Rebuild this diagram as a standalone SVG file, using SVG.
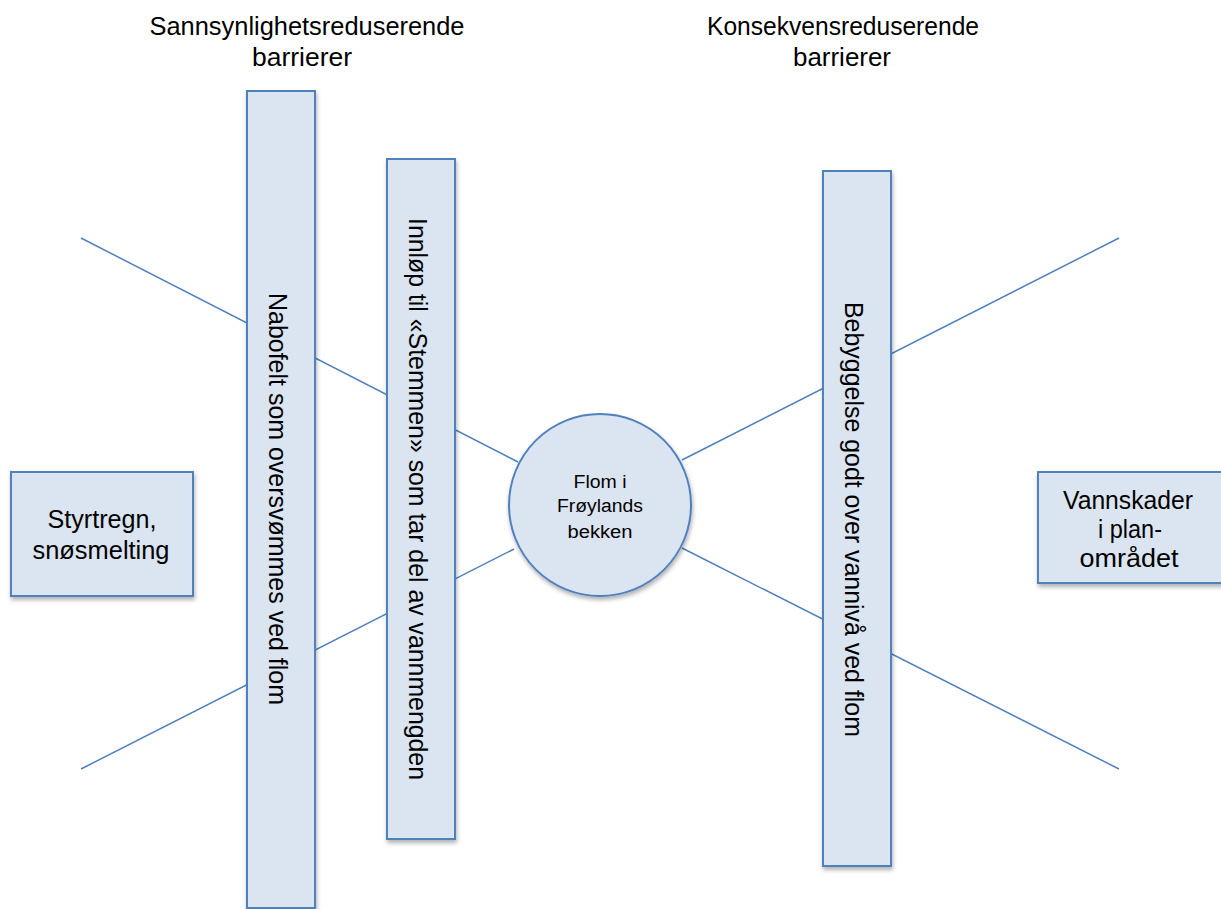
<svg xmlns="http://www.w3.org/2000/svg" width="1221" height="909" viewBox="0 0 1221 909">
<style>
.shape{fill:#dbe5f1;stroke:#4f81bd;stroke-width:2;filter:url(#sh)}
.ln{stroke:#4f81bd;stroke-width:1.5;fill:none}
text{font-family:"Liberation Sans","Open Sans",sans-serif;fill:#000;text-anchor:middle}
.t{font-size:26px}
.x{font-size:25px}
.b{font-size:25px}
.c{font-size:18px}
</style>
<defs>
<filter id="sh" x="-20%" y="-20%" width="140%" height="140%">
<feDropShadow dx="1" dy="3" stdDeviation="2" flood-color="#000" flood-opacity="0.3"/>
</filter>
</defs>
<g id="connectors">
<line class="ln" x1="81" y1="238" x2="518" y2="462"/>
<line class="ln" x1="81" y1="769" x2="514" y2="549"/>
<line class="ln" x1="682" y1="460" x2="1119" y2="238"/>
<line class="ln" x1="682" y1="548" x2="1119" y2="769"/>
</g>
<g id="title-left">
<text class="t" x="307" y="35" textLength="315" lengthAdjust="spacingAndGlyphs">Sannsynlighetsreduserende</text>
<text class="t" x="302" y="66" textLength="100" lengthAdjust="spacingAndGlyphs">barrierer</text>
</g>
<g id="title-right">
<text class="t" x="843" y="35" textLength="272" lengthAdjust="spacingAndGlyphs">Konsekvensreduserende</text>
<text class="t" x="842" y="66" textLength="98" lengthAdjust="spacingAndGlyphs">barrierer</text>
</g>
<g id="cause">
<rect class="shape" x="11" y="472" width="182" height="124"/>
<text class="x" x="102" y="528" textLength="109" lengthAdjust="spacingAndGlyphs">Styrtregn,</text>
<text class="x" x="101" y="559" textLength="137" lengthAdjust="spacingAndGlyphs">snøsmelting</text>
</g>
<g id="barrier1">
<rect class="shape" x="247" y="91" width="68" height="817"/>
<text class="b" transform="translate(269,499) rotate(90)" x="0" y="0" textLength="412" lengthAdjust="spacingAndGlyphs">Nabofelt som oversvømmes ved flom</text>
</g>
<g id="barrier2">
<rect class="shape" x="387" y="159" width="68" height="680"/>
<text class="b" transform="translate(409,499) rotate(90)" x="0" y="0" textLength="562" lengthAdjust="spacingAndGlyphs">Innløp til «Stemmen» som tar del av vannmengden</text>
</g>
<g id="event">
<circle class="shape" cx="600" cy="505" r="91"/>
<text class="c" x="600" y="488" textLength="53" lengthAdjust="spacingAndGlyphs">Flom i</text>
<text class="c" x="600" y="512" textLength="86" lengthAdjust="spacingAndGlyphs">Frøylands</text>
<text class="c" x="600" y="538" textLength="65" lengthAdjust="spacingAndGlyphs">bekken</text>
</g>
<g id="barrier3">
<rect class="shape" x="823" y="171" width="68" height="695"/>
<text class="b" transform="translate(845,519.5) rotate(90)" x="0" y="0" textLength="435" lengthAdjust="spacingAndGlyphs">Bebyggelse godt over vannivå ved flom</text>
</g>
<g id="consequence">
<rect class="shape" x="1038" y="472" width="190" height="111"/>
<text class="x" x="1128" y="509" textLength="130" lengthAdjust="spacingAndGlyphs">Vannskader</text>
<text class="x" x="1130" y="538" textLength="64" lengthAdjust="spacingAndGlyphs">i plan-</text>
<text class="x" x="1129" y="567" textLength="99" lengthAdjust="spacingAndGlyphs">området</text>
</g>
</svg>
